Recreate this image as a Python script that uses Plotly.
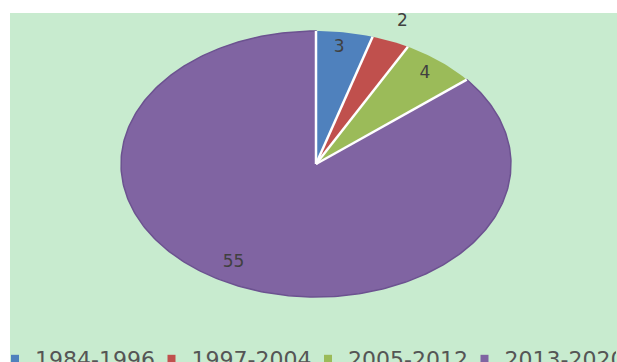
import numpy as np
import plotly.graph_objects as go

# ---- data ----
categories = ["1984-1996", "1997-2004", "2005-2012", "2013-2020"]
values = [3, 2, 4, 55]
colors = ["#4f81bd", "#c0504d", "#9bbb59", "#8064a2"]

# label placement factors (fraction of radius along mid-angle), style only
label_fx = [0.81, 1.157, 0.881, 0.99]
label_fy = [0.884, 1.158, 0.875, 0.818]

BG = "#c8ebcf"

# geometry in pixels of the figure (layout only)
W, H = 617, 362
ML, MT, MB = 10, 13, 30
CX, CY, RX, RY = 316, 164, 195, 133
PW, PH = W - ML, H - MT - MB

xr = [(ML - CX) / RX, (W - CX) / RX]
yr = [(CY - (H - MB)) / RY, (CY - MT) / RY]

total = float(sum(values))
fig = go.Figure()

cum = 0.0
bounds = []
for i, (cat, v, c) in enumerate(zip(categories, values, colors)):
    a0 = cum / total * 2 * np.pi
    a1 = (cum + v) / total * 2 * np.pi
    bounds.append(a0)
    th = np.linspace(a0, a1, max(8, int(400 * v / total)))
    xs = np.concatenate([[0], np.sin(th), [0]])
    ys = np.concatenate([[0], np.cos(th), [0]])
    line = dict(width=0)
    if i == 3:
        line = dict(width=1.5, color="#6c5290")
    fig.add_trace(go.Scatter(x=xs, y=ys, mode="lines", fill="toself",
                             fillcolor=c, line=line, showlegend=False,
                             hoverinfo="skip", cliponaxis=False))
    cum += v

# white separators between slices
sx, sy = [], []
for a in bounds:
    sx += [0, np.sin(a), None]
    sy += [0, np.cos(a), None]
fig.add_trace(go.Scatter(x=sx, y=sy, mode="lines",
                         line=dict(color="white", width=2.5),
                         showlegend=False, hoverinfo="skip", cliponaxis=False))

# data labels
cum = 0.0
lx, ly = [], []
for i, v in enumerate(values):
    mid = (cum + v / 2) / total * 2 * np.pi
    lx.append(label_fx[i] * np.sin(mid))
    ly.append(label_fy[i] * np.cos(mid))
    cum += v
fig.add_trace(go.Scatter(x=lx, y=ly, mode="text", text=[str(v) for v in values],
                         textfont=dict(family="DejaVu Sans", size=17, color="#404040"),
                         showlegend=False, hoverinfo="skip", cliponaxis=False))

# legend entries
for i, (cat, c) in enumerate(zip(categories, colors)):
    fig.add_trace(go.Scatter(x=[None], y=[None], mode="markers", name=cat,
                             marker=dict(symbol="square", size=8, color=c),
                             legendwidth=(106 if i == 3 else None)))

# white frame strips at top and left (outside the green area)
shapes = [
    dict(type="rect", xref="paper", yref="paper", layer="above",
         x0=-ML / PW - 0.01, x1=0, y0=-MB / PH - 0.01, y1=1 + MT / PH + 0.01,
         fillcolor="white", line=dict(width=0)),
    dict(type="rect", xref="paper", yref="paper", layer="above",
         x0=-ML / PW - 0.01, x1=1.01, y0=1, y1=1 + MT / PH + 0.01,
         fillcolor="white", line=dict(width=0)),
]

fig.update_layout(
    width=W, height=H,
    margin=dict(l=ML, r=0, t=MT, b=MB, pad=0, autoexpand=False),
    paper_bgcolor=BG,
    plot_bgcolor=BG,
    shapes=shapes,
    xaxis=dict(range=xr, visible=False, fixedrange=True),
    yaxis=dict(range=yr, visible=False, fixedrange=True),
    showlegend=True,
    legend=dict(orientation="h", x=(-5 - ML) / PW, xanchor="left",
                y=((H - MB) - 338) / PH, yanchor="top",
                bgcolor="rgba(0,0,0,0)", borderwidth=0,
                entrywidth=111.5, entrywidthmode="pixels",
                font=dict(family="DejaVu Sans", size=22, color="#555555"),
                itemclick=False, itemdoubleclick=False),
    hovermode=False,
)

fig.write_html("out.html")
